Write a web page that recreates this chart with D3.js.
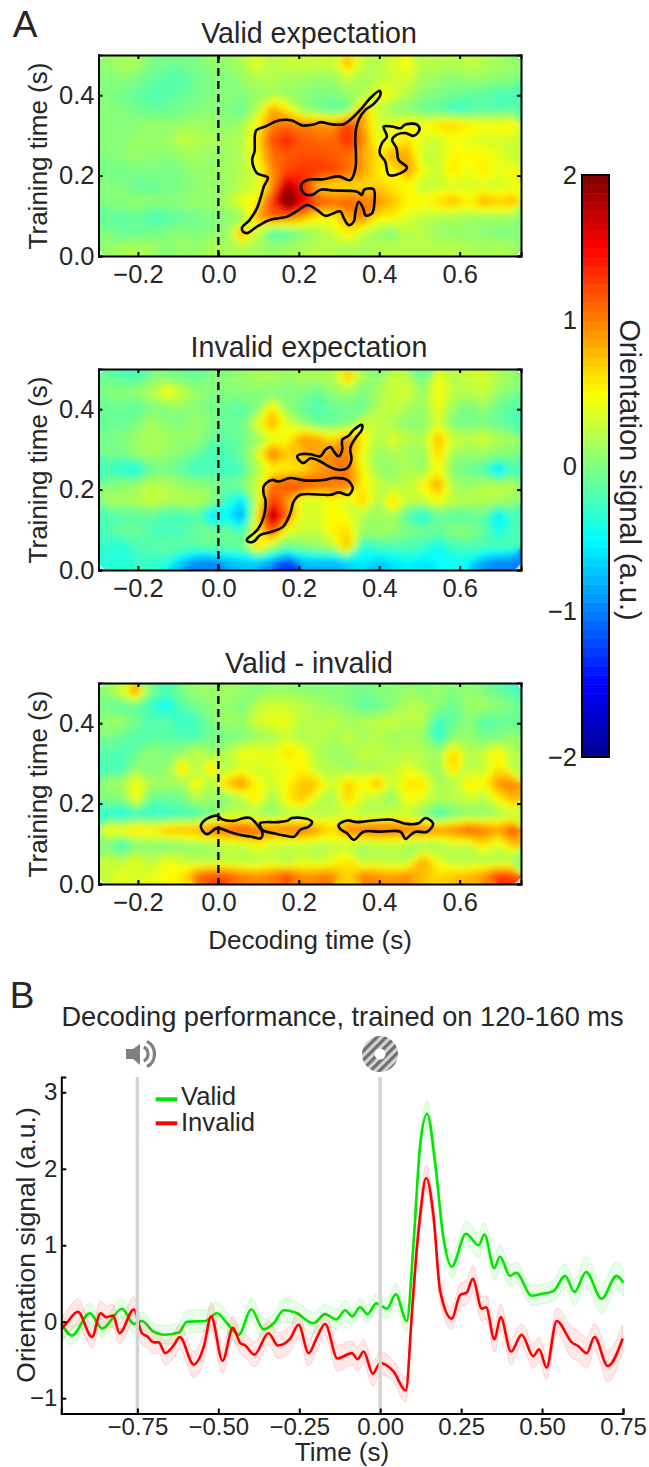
<!DOCTYPE html>
<html lang="en">
	<head>
		<meta charset="utf-8">
		<title>Orientation decoding: valid vs invalid expectation</title>
		<script src="https://d3js.org/d3.v7.min.js"></script>
		<style type="text/css">
			html, body { margin: 0; padding: 0; background: #fff; }
			svg { display: block; }
			text { font-family: "Liberation Sans", Arial, sans-serif; fill: #262626; }
			.tick text { font-size: 25.5px; }
			.small .tick text { font-size: 24px; }
			.axis path, .axis line { stroke: #000; stroke-width: 2px; }
		</style>
	</head>
	<body>
		<script type="text/javascript">

			// heatmap grids, row 0 = top of panel (training time 0.5), left to right -0.3 .. 0.75
			var validGrid = [
				[.1,.15,.2,0,-.05,-.05,0,.1,.1,.2,.45,.2,.3,.3,.3,.3,.85,.3,.2,.35,.5,.2,.25,.2,.3,.2,.15,.1],
				[0,.05,0,-.1,-.15,-.2,-.05,0,0,.1,.2,.2,.15,.15,.1,.1,.3,.15,.2,.3,.35,.15,.1,.05,.1,.1,.05,.05],
				[0,-.05,-.1,-.2,-.15,-.1,-.05,0,0,0,.1,.15,.1,.05,0,0,.1,.15,.5,.4,.2,.05,0,-.05,-.1,-.15,-.2,-.2],
				[0,0,-.05,-.1,-.1,-.05,0,.05,0,-.1,.2,.85,.55,.1,-.05,-.15,-.1,.85,.3,.05,.05,-.1,-.15,-.3,-.25,-.15,-.2,-.15],
				[.05,.05,.05,.1,.1,.1,.15,.1,.05,.15,.5,1,1.05,1,.95,.9,1.3,.9,.3,.4,.55,.45,.65,.7,.55,.5,.5,.55],
				[0,.05,.1,.1,.1,.3,.2,.15,.15,.2,.6,1.2,1.4,1.15,1.1,1.1,1.35,1,.4,.45,.6,.35,.3,.45,.4,.3,.35,.3],
				[0,.05,.1,.05,.05,.1,.15,.1,.1,.2,.55,1.05,1.15,1.2,1.2,1.15,1.1,.85,.6,.85,.85,.3,.3,.55,.5,.55,.4,.25],
				[-.05,-.05,0,0,-.05,0,.1,.1,.15,.2,.4,.95,1.25,1.3,1.3,1.25,1.1,.9,.55,.5,.9,.45,.3,.6,.4,.6,.4,.5],
				[.05,0,-.1,-.1,-.05,0,.05,.1,.1,.25,.3,.9,1.9,1.4,.7,.6,.6,.65,.7,.6,.5,.25,.3,.35,.35,.35,.3,.4],
				[0,.05,.1,.05,.05,.05,.1,.1,.2,.45,.55,1.3,2.3,1.6,1.2,1.1,1.15,1.05,.95,.75,.55,.5,.65,.8,.55,.85,.7,.8],
				[-.1,-.15,-.1,-.2,-.2,-.1,-.05,0,.05,.1,.8,1.15,1.05,.85,.55,.5,.8,1,.55,.55,.35,.25,.2,.15,.15,.1,.15,.1],
				[0,-.1,-.1,-.05,0,.05,0,.05,.1,.9,.3,-.25,-.15,0,.15,.3,.6,.3,.1,0,.25,.2,.1,.1,.05,.05,0,0],
				[.1,.15,.2,.15,.05,.1,.1,.2,.15,.2,.15,.1,.15,.2,.2,.2,.15,.15,.2,.25,.2,.2,.2,.2,.2,.15,.2,.15]
			];
			var invalidGrid = [
				[-.1,-.15,-.25,0,0,-.05,-.1,0,.05,.1,.15,.2,.1,.2,.15,.2,.8,.2,.05,.3,.2,-.1,.45,.2,.3,.35,.2,.1],
				[.05,.05,.1,.2,.55,.3,.1,0,.05,.05,.05,0,0,0,-.1,.1,.15,0,.15,.3,.35,.1,.5,.25,.2,.3,.1,0],
				[-.1,-.1,-.15,0,0,.1,.05,-.05,-.1,-.15,0,.6,.05,-.1,-.2,-.1,-.05,-.1,.2,.3,.15,.1,.45,.1,-.05,.1,-.1,-.15],
				[-.1,-.1,0,.15,.05,0,.1,0,-.1,-.1,.4,.85,.4,.1,-.1,-.1,0,.3,.3,.15,.05,.05,.35,0,-.05,0,-.1,-.2],
				[0,0,.1,.2,.15,.1,.1,-.1,-.15,-.05,.1,.4,.5,.95,.85,.6,.95,.6,.2,.4,.2,.2,.8,.3,.25,.35,.2,.15],
				[-.05,-.05,.1,.15,.1,0,-.1,-.25,-.2,-.1,.35,1.1,.7,.75,.85,1,1,.4,.1,.2,.15,.05,.7,.1,.1,.1,.05,0],
				[-.25,-.35,-.45,-.1,-.05,-.15,-.3,-.2,-.3,-.2,.2,.5,.55,.6,.85,.95,1.05,.5,.1,.05,.2,.1,.5,0,-.1,-.2,-.7,-.2],
				[0,.05,.1,.25,.2,.1,.1,0,-.1,0,.3,1.1,1.2,1.25,1.1,1.05,1.05,.55,.3,.2,.25,.5,.9,.15,.1,.2,.2,.2],
				[.15,.15,.2,.3,.2,.2,.2,.1,-.3,-.6,.3,1.35,.9,.35,.3,.5,.3,.75,.2,.7,.25,.3,.5,.25,.2,.2,.2,.1],
				[-.2,-.15,-.15,-.1,-.25,-.25,-.15,-.65,-.5,-.95,.5,2,1.1,.35,.35,.55,.45,.2,.1,.2,-.2,-.45,-.1,-.15,-.15,-.1,-.65,-.2],
				[-.2,-.1,-.05,-.2,-.25,-.2,-.1,0,-.1,-.25,.55,1.2,.4,.3,.25,.55,.65,.1,.15,.1,0,-.05,-.1,.05,.05,-.1,-.45,-.2],
				[-.3,-.4,-.2,-.15,-.1,-.15,-.15,-.1,-.1,-.1,.7,.2,-.1,0,.1,.2,.85,-.35,-.25,-.2,-.2,-.25,-.45,-.25,-.2,-.2,-.2,-.25],
				[-.35,-.35,-.3,-.3,-.35,-.7,-.95,-1,-.8,-.7,-.7,-.9,-1.3,-.8,-.75,-.8,-.65,-.55,-.7,-.6,-.5,-.6,-.5,-.45,-.5,-.85,-1,-1]
			];
			var diffGrid = [
				[.1,.35,1,0,-.2,0,.1,.1,.15,.1,.05,.1,.1,.05,.05,0,0,-.05,.05,.05,.1,.05,.1,0,.1,0,-.1,-.2],
				[-.05,-.15,-.1,-.3,-.5,-.15,-.05,.05,.1,-.05,.25,.35,.3,.25,.15,.1,.05,-.15,-.1,.05,.2,.2,.05,-.1,.1,.15,.05,0],
				[.1,.15,-.05,-.2,-.1,-.3,-.25,0,.15,.1,.35,.4,.45,.2,.2,.3,.15,.2,.25,.3,.2,.2,-.3,-.1,.05,-.2,-.1,-.1],
				[0,-.1,-.15,-.15,-.15,-.2,-.2,-.05,-.05,0,.1,.15,.3,.15,.25,.15,.3,.15,.2,.1,.15,.1,-.35,.05,.1,-.05,0,.1],
				[-.15,-.2,-.1,.1,0,.1,.3,.1,.2,.45,.45,.4,.65,.5,.2,.1,.15,.3,.25,.2,.25,.2,.1,.7,.2,.3,.55,.2],
				[-.2,-.25,.1,0,.05,.7,.2,.7,.2,.35,.3,.4,.4,.55,.2,.2,.1,.15,.15,.25,.4,.2,.1,.7,.2,.25,.6,.2],
				[.1,.15,.5,.15,.15,.15,.55,.2,.75,1,.5,.3,.5,.75,.7,.3,.7,.5,.8,.3,.6,.65,.15,.2,.6,.5,.95,1],
				[0,0,.5,-.1,-.1,-.05,.2,.1,0,.2,.6,.1,.55,.75,.3,.1,.7,.3,.2,.05,.5,.35,.2,.2,.3,.2,.5,.8],
				[-.3,-.45,-.3,-.3,-.35,-.25,-.25,-.05,.3,.25,.15,.1,.2,.15,.2,.25,.3,.2,.2,.3,.25,.05,-.3,-.05,.05,.05,.15,.25],
				[.5,.5,.65,.55,.8,.8,.85,1.1,1.1,1.25,1.1,1,1.05,1.1,.9,.65,1.05,1.1,1.15,1.1,1.05,1.05,.95,1,1.2,1.05,.9,1.25],
				[0,-.3,0,.05,-.05,.05,.1,.1,.25,.25,.5,.3,.25,.25,.2,.25,.25,.15,.2,.25,.15,.1,.15,.3,.25,.6,.3,.75],
				[.3,.2,.4,.2,.45,.3,.2,.2,.25,.2,.2,.3,.15,.35,.25,.4,.6,.2,.25,.2,.2,.9,.4,.2,.2,.2,.2,.1],
				[.3,.45,.35,.4,.5,.6,1.1,1.25,1.2,1.05,.95,1.05,1.3,.95,1,1,.65,1.05,.95,.9,1,.75,.65,.75,.8,.95,1.35,1.3]
			];

			// significant clusters, [decoding time, training time]
			var validClusters = [
				[[.061,.061],[.059,.071],[.078,.090],[.096,.119],[.106,.148],[.113,.173],[.123,.195],[.096,.206],[.084,.239],[.090,.260],[.094,.312],[.117,.322],[.150,.337],[.183,.337],[.208,.325],[.237,.327],[.254,.333],[.279,.328],[.312,.328],[.337,.347],[.357,.368],[.378,.393],[.401,.411],[.403,.401],[.386,.378],[.366,.364],[.349,.339],[.341,.306],[.341,.219],[.328,.189],[.299,.198],[.262,.191],[.221,.189],[.206,.177],[.212,.156],[.233,.152],[.254,.165],[.287,.163],[.345,.160],[.357,.152],[.363,.165],[.386,.166],[.388,.135],[.382,.106],[.366,.101],[.360,.119],[.349,.135],[.341,.111],[.337,.086],[.324,.077],[.312,.094],[.303,.111],[.266,.100],[.245,.115],[.221,.127],[.200,.115],[.171,.098],[.129,.090],[.096,.073],[.071,.057]],
				[[.411,.322],[.432,.322],[.453,.318],[.465,.327],[.494,.327],[.500,.314],[.486,.299],[.465,.306],[.444,.302],[.432,.289],[.443,.268],[.448,.239],[.469,.220],[.453,.206],[.424,.202],[.415,.235],[.401,.256],[.407,.281],[.419,.297]]
			];
			var invalidClusters = [
				[[.071,.076],[.088,.091],[.100,.104],[.113,.133],[.117,.175],[.113,.187],[.113,.209],[.133,.224],[.150,.220],[.179,.229],[.212,.223],[.262,.224],[.287,.229],[.320,.224],[.334,.204],[.324,.187],[.299,.193],[.279,.187],[.204,.187],[.187,.170],[.179,.141],[.161,.108],[.129,.094],[.104,.087],[.088,.071],[.073,.071]],
				[[.196,.283],[.204,.288],[.229,.288],[.254,.283],[.266,.299],[.279,.306],[.287,.295],[.299,.283],[.308,.299],[.308,.324],[.324,.334],[.337,.349],[.357,.361],[.357,.349],[.341,.328],[.328,.303],[.331,.274],[.320,.253],[.299,.249],[.274,.258],[.254,.270],[.229,.278],[.212,.266],[.200,.274]]
			];
			var diffClusters = [
				[[-.043,.147],[-.032,.160],[-.003,.170],[.009,.161],[.038,.157],[.063,.164],[.080,.164],[.100,.143],[.109,.130],[.106,.114],[.080,.118],[.055,.122],[.030,.129],[-.003,.139],[-.028,.124],[-.041,.135]],
				[[.104,.151],[.146,.154],[.171,.157],[.183,.164],[.221,.162],[.233,.154],[.225,.143],[.204,.135],[.189,.118],[.167,.120],[.138,.126],[.109,.135]],
				[[.299,.147],[.320,.158],[.345,.154],[.386,.158],[.432,.160],[.465,.150],[.498,.151],[.515,.164],[.534,.150],[.519,.130],[.490,.130],[.478,.122],[.465,.112],[.453,.130],[.403,.130],[.361,.130],[.337,.110],[.320,.126],[.303,.137]]
			];

			// panel B curves
			var validTime = [-.985,-.952,-.897,-.859,-.797,-.761,-.736,-.700,-.669,-.622,
				-.597,-.540,-.504,-.473,-.437,-.398,-.360,-.329,-.298,-.262,
				-.206,-.170,-.136,-.108,-.087,-.062,-.039,-.012,.021,.048,
				.082,.103,.123,.145,.170,.195,.221,.265,.304,.322,
				.352,.370,.401,.420,.468,.494,.535,.571,.600,.636,
				.684,.730,.751];
			var validSignal = [-.02,-.18,.11,-.09,.17,-.03,.01,-.13,-.17,-.14,
				0,.01,.11,-.02,-.17,.16,-.10,-.02,.15,.12,
				-.02,.10,.03,.15,.07,.19,.10,.24,.17,.36,
				.01,1.02,2.29,2.72,2.07,1.11,.72,1.15,1.00,1.14,
				.70,.85,.60,.64,.34,.36,.40,.60,.39,.65,
				.30,.60,.51];
			var validSem = [.14,.12,.13,.12,.13,.12,.12,.11,.12,.13,
				.15,.14,.15,.14,.13,.15,.13,.13,.16,.15,
				.14,.13,.13,.13,.12,.12,.12,.13,.13,.14,
				.15,.15,.17,.17,.16,.14,.15,.17,.16,.16,
				.16,.16,.14,.14,.13,.13,.14,.16,.17,.2,
				.2,.19,.18];
			var invalidTime = [-.985,-.967,-.934,-.890,-.864,-.846,-.825,-.805,-.761,-.736,
				-.720,-.700,-.684,-.664,-.638,-.619,-.576,-.545,-.522,-.487,
				-.455,-.432,-.417,-.389,-.345,-.316,-.278,-.252,-.221,-.195,
				-.170,-.132,-.087,-.070,-.051,-.023,0,.041,.079,.098,
				.111,.123,.142,.165,.185,.221,.247,.267,.286,.314,
				.327,.353,.372,.404,.437,.473,.491,.514,.545,.592,
				.612,.638,.662,.703,.749];
			var invalidSignal = [-.10,-.01,.13,-.20,.11,.06,.08,-.15,.16,-.15,
				-.19,-.27,-.27,-.41,-.31,-.20,-.56,-.33,.07,-.51,
				-.08,-.28,-.31,-.43,-.15,-.31,-.22,-.04,-.41,-.20,
				-.03,-.48,-.41,-.49,-.39,-.68,-.54,-.65,-.90,.11,
				.85,1.37,1.88,1.37,.41,.04,.35,.38,.56,.17,
				.19,-.23,.06,-.39,-.17,-.45,-.36,-.60,.01,-.27,
				-.32,-.41,-.20,-.58,-.22];
			var invalidSem = [.15,.16,.17,.14,.16,.15,.15,.14,.17,.15,
				.15,.15,.14,.16,.16,.16,.17,.19,.18,.17,
				.16,.14,.15,.16,.16,.17,.17,.17,.17,.17,
				.15,.17,.16,.16,.16,.16,.15,.14,.15,.14,
				.16,.17,.17,.17,.16,.14,.15,.16,.18,.16,
				.15,.17,.17,.17,.14,.16,.16,.16,.17,.20,
				.20,.20,.18,.21,.18];

			var heatXTicks = [-.2, 0, .2, .4, .6];
			var heatYTicks = [0, .2, .4];
			var barTicks = [-2, -1, 0, 1, 2];
			var timeTicks = [-.75, -.5, -.25, 0, .25, .5, .75];
			var signalTicks = [-1, 0, 1, 2, 3];
			var eventTimes = [-.75, 0];
			var jetStops = [-2, -1.5, -.5, .5, 1.5, 2];
			var jetColors = ["#00008f", "#0000ff", "#00ffff", "#ffff00", "#ff0000", "#800000"];

			var width = 649, height = 1467;
			var svg = d3.select("body").append("svg")
				.attr("width", width)
				.attr("height", height);
			var defs = svg.append("defs");

			var jet = d3.scaleLinear().domain(jetStops).range(jetColors).clamp(true);
			var levels = d3.range(64).map(function(i){ return -2 + i / 16; });

			// softens the marching squares edges of the contour bands
			defs.append("filter").attr("id", "soften")
				.attr("x", "-5%").attr("y", "-5%").attr("width", "110%").attr("height", "110%")
				.append("feGaussianBlur").attr("stdDeviation", 3);

			function label(txt, x, y, size, rot){
				var t = svg.append("text")
					.attr("transform", "translate(" + x + "," + y + ")" + (rot ? " rotate(" + rot + ")" : ""))
					.attr("text-anchor", "middle")
					.style("font-size", size + "px")
					.text(txt);
				return t;
			}

			function heatmap(grid, clusters, top, id){
				var left = 98.5, w = 422.5, h = 201;
				var x = d3.scaleLinear().domain([-.298, .7525]).range([0, w]);
				var y = d3.scaleLinear().domain([0, .5]).range([h, 0]);
				var nx = grid[0].length, ny = grid.length;
				var colX = d3.scaleLinear().domain([0, nx]).range([0, w]);
				var rowY = d3.scaleLinear().domain([0, ny]).range([0, h]);

				var g = svg.append("g").attr("transform", "translate(" + left + "," + top + ")");

				defs.append("clipPath").attr("id", id)
					.append("rect").attr("width", w).attr("height", h);
				var clipped = g.append("g").attr("clip-path", "url(#" + id + ")");

				var toPlot = d3.geoTransform({point: function(a, b){
					this.stream.point(colX(a), rowY(b));
				}});
				var path = d3.geoPath(toPlot);
				var bands = d3.contours().size([nx, ny]).thresholds(levels)(d3.merge(grid));

				// plain copy underneath so the blur does not fade out at the frame
				[null, "url(#soften)"].forEach(function(f){
					clipped.append("g").attr("filter", f).selectAll("path")
						.data(bands)
						.enter()
						.append("path")
						.attr("d", path)
						.attr("fill", function(d){ return jet(d.value + 1 / 32); });
				});

				var outline = d3.line()
					.x(function(d){ return x(d[0]); })
					.y(function(d){ return y(d[1]); })
					.curve(d3.curveCatmullRomClosed);
				g.append("g").selectAll("path")
					.data(clusters)
					.enter()
					.append("path")
					.attr("d", outline)
					.attr("fill", "none")
					.attr("stroke", "#000")
					.attr("stroke-width", 2.6);

				// onset marker
				g.append("line")
					.attr("x1", x(0)).attr("x2", x(0))
					.attr("y1", 0).attr("y2", h)
					.attr("stroke", "#000")
					.attr("stroke-width", 2.4)
					.attr("stroke-dasharray", "8,5");

				g.append("g").attr("class", "axis")
					.attr("transform", "translate(0," + h + ")")
					.call(d3.axisBottom(x).tickValues(heatXTicks).tickSize(-4).tickPadding(9).tickFormat(d3.format(".1f")));
				g.append("g").attr("class", "axis")
					.call(d3.axisTop(x).tickValues(heatXTicks).tickSize(-4).tickFormat(""));
				g.append("g").attr("class", "axis")
					.call(d3.axisLeft(y).tickValues(heatYTicks).tickSize(-4).tickPadding(4).tickFormat(d3.format(".1f")));
				g.append("g").attr("class", "axis")
					.attr("transform", "translate(" + w + ",0)")
					.call(d3.axisRight(y).tickValues(heatYTicks).tickSize(-4).tickFormat(""));
			}

			heatmap(validGrid, validClusters, 55, "clipValid");
			heatmap(invalidGrid, invalidClusters, 369, "clipInvalid");
			heatmap(diffGrid, diffClusters, 683, "clipDiff");

			label("Valid expectation", 309, 43, 28.6);
			label("Invalid expectation", 309, 357, 28.6);
			label("Valid - invalid", 309, 673, 28.6);
			label("Training time (s)", 47, 156, 26, -90);
			label("Training time (s)", 47, 470, 26, -90);
			label("Training time (s)", 47, 784, 26, -90);
			label("Decoding time (s)", 310, 949, 26);
			label("A", 25, 37, 37);
			label("B", 22, 1008, 37);

			// colour bar
			var barLeft = 582, barW = 27;
			var barY = d3.scaleLinear().domain([-2, 2]).range([757, 175]);
			svg.append("g").selectAll("rect")
				.data(levels)
				.enter()
				.append("rect")
				.attr("x", barLeft)
				.attr("width", barW)
				.attr("y", function(d){ return barY(d + 1 / 16); })
				.attr("height", function(d){ return barY(d) - barY(d + 1 / 16) + .5; })
				.attr("fill", function(d){ return jet(d + 1 / 32); });
			svg.append("rect")
				.attr("x", barLeft).attr("y", barY(2))
				.attr("width", barW).attr("height", barY(-2) - barY(2))
				.attr("fill", "none").attr("stroke", "#000").attr("stroke-width", 2);
			svg.append("g").attr("class", "axis")
				.attr("transform", "translate(" + barLeft + ",0)")
				.call(d3.axisLeft(barY).tickValues(barTicks).tickSize(0).tickPadding(5).tickFormat(d3.format("d")))
				.select(".domain").remove();
			label("Orientation signal (a.u.)", 620, 470, 29, 90);

			// panel B
			var bLeft = 61.3, bBottom = 1413.5, bTop = 1077, bRight = 623;
			var xTime = d3.scaleLinear().domain([-.985, .75]).range([bLeft, bRight]);
			var ySignal = d3.scaleLinear().domain([-1.2, 3.2]).range([bBottom, bTop]);

			function drawCurve(times, values, sem, colour){
				var rows = times.map(function(t, i){ return {t: t, v: values[i], s: sem[i]}; });
				var band = d3.area()
					.x(function(d){ return xTime(d.t); })
					.y0(function(d){ return ySignal(d.v - d.s); })
					.y1(function(d){ return ySignal(d.v + d.s); })
					.curve(d3.curveMonotoneX);
				var line = d3.line()
					.x(function(d){ return xTime(d.t); })
					.y(function(d){ return ySignal(d.v); })
					.curve(d3.curveMonotoneX);
				svg.append("path").attr("d", band(rows))
					.attr("fill", colour).attr("fill-opacity", .09)
					.attr("stroke", colour).attr("stroke-opacity", .14).attr("stroke-width", 1);
				svg.append("path").attr("d", line(rows))
					.attr("fill", "none").attr("stroke", colour).attr("stroke-width", 2.6);
			}
			drawCurve(validTime, validSignal, validSem, "#00e800");
			drawCurve(invalidTime, invalidSignal, invalidSem, "#ff0000");

			svg.append("g").selectAll("line")
				.data(eventTimes)
				.enter()
				.append("line")
				.attr("x1", function(d){ return xTime(d); })
				.attr("x2", function(d){ return xTime(d); })
				.attr("y1", bTop).attr("y2", bBottom)
				.attr("stroke", "#d3d3d3").attr("stroke-width", 3.4);

			svg.append("g").attr("class", "axis small")
				.attr("transform", "translate(0," + bBottom + ")")
				.call(d3.axisBottom(xTime).tickValues(timeTicks).tickSize(-5).tickPadding(4).tickFormat(d3.format(".2f")));
			svg.append("g").attr("class", "axis small")
				.attr("transform", "translate(" + bLeft + ",0)")
				.call(d3.axisLeft(ySignal).tickValues(signalTicks).tickSize(-5).tickPadding(4).tickFormat(d3.format("d")));

			svg.append("line").attr("x1", 155.7).attr("x2", 177.3).attr("y1", 1099.3).attr("y2", 1099.3)
				.attr("stroke", "#00e800").attr("stroke-width", 4);
			svg.append("line").attr("x1", 155.7).attr("x2", 177.3).attr("y1", 1123.3).attr("y2", 1123.3)
				.attr("stroke", "#ff0000").attr("stroke-width", 4);
			label("Valid", 181, 1105, 25.6).attr("text-anchor", "start");
			label("Invalid", 181, 1131, 25.6).attr("text-anchor", "start");

			label("Decoding performance, trained on 120-160 ms", 342.5, 1026, 27.2);
			label("Orientation signal (a.u.)", 35, 1245, 26.5, -90);
			label("Time (s)", 342, 1461, 26);

			// speaker icon
			var speaker = svg.append("g").attr("transform", "translate(140,1054)").attr("fill", "#808080");
			speaker.append("path").attr("d", "M-14,-5 L-7,-5 L0,-10 L0,11 L-7,5 L-14,5 Z");
			[8, 14.5].forEach(function(r){
				speaker.append("path")
					.attr("d", d3.arc().innerRadius(r - 1.6).outerRadius(r + 1.6).startAngle(Math.PI * .16).endAngle(Math.PI * .84)());
			});

			// striped disc icon
			defs.append("pattern").attr("id", "stripes")
				.attr("width", 6.4).attr("height", 6.4)
				.attr("patternUnits", "userSpaceOnUse")
				.attr("patternTransform", "rotate(45)")
				.call(function(p){
					p.append("rect").attr("width", 6.4).attr("height", 6.4).attr("fill", "#d4d4d4");
					p.append("rect").attr("width", 3.2).attr("height", 6.4).attr("fill", "#6e6e6e");
				});
			svg.append("circle").attr("cx", 380).attr("cy", 1054).attr("r", 18).attr("fill", "url(#stripes)");
			svg.append("circle").attr("cx", 380).attr("cy", 1054).attr("r", 5.5).attr("fill", "#fff");

		</script>
	</body>
</html>
